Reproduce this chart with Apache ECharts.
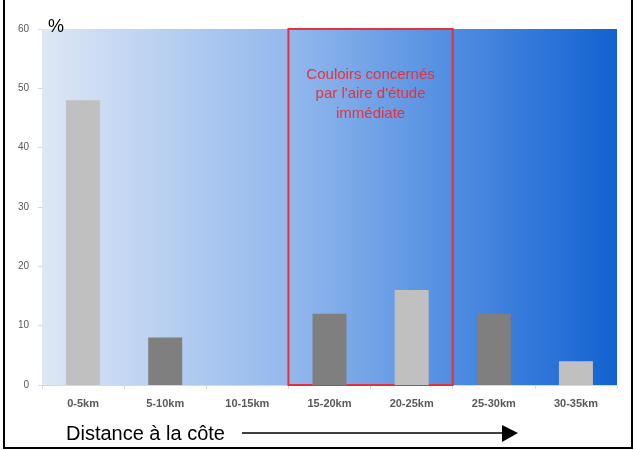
<!DOCTYPE html>
<html>
<head>
<meta charset="utf-8">
<script src="https://cdn.jsdelivr.net/npm/echarts@6/dist/echarts.min.js"></script>
<style>
html, body { margin: 0; padding: 0; background: #fff; }
#main { width: 636px; height: 450px; }
</style>
</head>
<body>
<div id="main"></div>
<script>
// distance classes and share of corridors (%)
var categories = ['0-5km', '5-10km', '10-15km', '15-20km', '20-25km', '25-30km', '30-35km'];
var values = [48, 8, 0, 12, 16, 12, 4];
var barColors = ['#c0c0c0', '#7f7f7f', '#c0c0c0', '#7f7f7f', '#c0c0c0', '#7f7f7f', '#c0c0c0'];
var yTicks = [0, 10, 20, 30, 40, 50, 60];

var chart = echarts.init(document.getElementById('main'));

var barData = [];
for (var i = 0; i < values.length; i++) {
	barData.push({ value: values[i], itemStyle: { color: barColors[i] } });
}

var option = {
	animation: false,
	grid: {
		left: 42, right: 19, top: 29, bottom: 65,
		show: true,
		borderWidth: 0,
		backgroundColor: new echarts.graphic.LinearGradient(0, 0, 1, 0, [
			{ offset: 0, color: '#dde7f5' },
			{ offset: 0.45, color: '#8fb6ec' },
			{ offset: 0.72, color: '#4f8ce1' },
			{ offset: 1, color: '#1262d1' }
		])
	},
	xAxis: [{
		type: 'category',
		data: categories,
		axisLine: { lineStyle: { color: '#d9d9d9' } },
		axisTick: { show: true, length: 4, lineStyle: { color: '#d9d9d9' } },
		axisLabel: { color: '#595959', fontSize: 11, fontWeight: 'bold', fontFamily: 'Liberation Sans Narrow, Liberation Sans', margin: 13 }
	}, {
		type: 'value', min: 0, max: 7, show: false
	}],
	yAxis: {
		type: 'value',
		min: yTicks[0], max: yTicks[yTicks.length - 1], interval: 10,
		axisLine: { show: false },
		axisTick: { show: true, length: 4, lineStyle: { color: '#d9d9d9' } },
		splitLine: { show: false },
		axisLabel: { color: '#595959', fontSize: 10, fontFamily: 'Liberation Sans', margin: 13 }
	},
	series: [{
		type: 'bar',
		data: barData,
		barWidth: 34,
		z: 3
	}, {
		type: 'line',
		xAxisIndex: 1,
		data: [],
		markArea: {
			silent: true,
			itemStyle: { color: 'rgba(0,0,0,0)', borderColor: '#e8303a', borderWidth: 2 },
			label: {
				show: true,
				position: 'insideTop',
				distance: 37,
				color: '#e8303a',
				fontSize: 15,
				lineHeight: 19.5,
				fontFamily: 'Liberation Sans',
				formatter: 'Couloirs concernés\npar l\'aire d\'étude\nimmédiate'
			},
			data: [[{ xAxis: 3, yAxis: 60 }, { xAxis: 5, yAxis: 0 }]]
		},
		z: 4
	}],
	graphic: [
		{ type: 'rect', shape: { x: 4, y: -2, width: 628, height: 450 }, style: { fill: 'none', stroke: '#000', lineWidth: 2 }, z: 10 },
		{ type: 'text', left: 48, top: 18, style: { text: '%', fontSize: 18, fill: '#000', fontFamily: 'Liberation Sans' } },
		{ type: 'text', left: 66, top: 424, style: { text: 'Distance à la côte', fontSize: 20, fill: '#000', fontFamily: 'Liberation Sans' } },
		{ type: 'line', shape: { x1: 242, y1: 433, x2: 504, y2: 433 }, style: { stroke: '#000', lineWidth: 1.3 } },
		{ type: 'polygon', shape: { points: [[502, 425], [518, 433], [502, 442]] }, style: { fill: '#000' } }
	]
};

chart.setOption(option);
</script>
</body>
</html>
